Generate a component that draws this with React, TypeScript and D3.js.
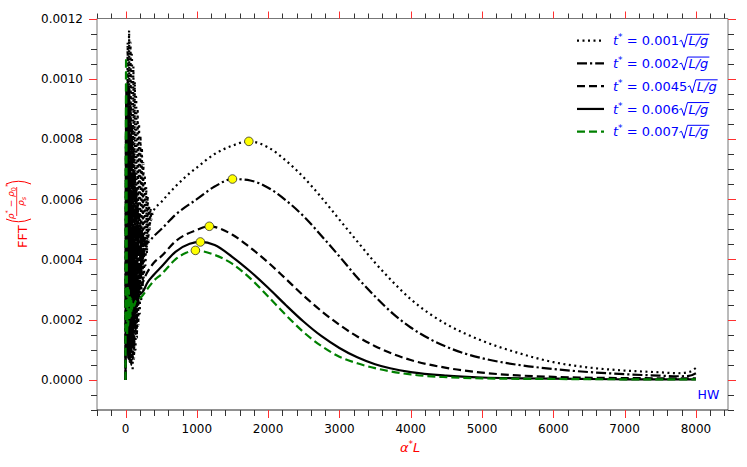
import React, { useEffect, useRef } from 'react';
import * as d3 from 'd3';

// t* = 0.001 sqrt(L/g)  (dotted)
const dottedX = [0, 10, 20, 30, 40, 50, 60, 70, 80, 90, 100, 110, 120, 130, 140, 150, 160, 170, 180, 190, 200, 210, 220, 230, 240, 250, 260, 270, 280, 290, 300, 310, 320, 330, 340, 350, 360, 370, 380, 390,
  500, 600, 700, 850, 1000, 1250, 1500, 1730, 2000, 2250, 2500, 2750, 3000, 3250, 3500, 3750, 4000, 4250, 4500, 4750, 5000, 5500, 6000, 6500, 7000, 7500, 7750, 7900, 8000];
const dottedY = [0, 0.0009, 0.0002, 0.00112, 0.00015, 0.00116, 0.0001, 0.00112, 0.00006, 0.00108, 0.00003, 0.00104, 0.00007, 0.00099, 0.0001, 0.00094, 0.00014, 0.0009, 0.00018, 0.00085, 0.00022, 0.00081, 0.00026, 0.00077, 0.0003, 0.00072, 0.00034, 0.00068, 0.00038, 0.00064, 0.00042, 0.00061, 0.00046, 0.00058, 0.0005, 0.00057, 0.00053, 0.00056, 0.00055, 0.00056,
  0.00059, 0.000617, 0.000642, 0.000676, 0.000705, 0.00075, 0.000778, 0.000792, 0.000772, 0.000728, 0.000672, 0.000605, 0.000532, 0.00046, 0.000389, 0.000325, 0.000268, 0.000222, 0.000185, 0.000155, 0.00013, 0.00009, 0.000059, 0.000041, 0.000031, 0.000025, 0.000022, 0.000026, 0.00004];

// t* = 0.002 sqrt(L/g)  (dash-dot)
const dashDotX = [0, 10, 20, 30, 40, 50, 60, 70, 80, 90, 100, 110, 120, 130, 140, 150, 160, 170, 180, 190, 200, 210, 220, 230, 240, 250, 260, 270, 280, 290,
  300, 400, 500, 700, 1000, 1250, 1500, 1750, 2000, 2250, 2500, 2750, 3000, 3250, 3500, 3750, 4000, 4250, 4500, 4750, 5000, 5500, 6000, 6500, 7000, 7500, 7750, 7900, 8000];
const dashDotY = [0, 0.00093, 0.00012, 0.00099, 0.00008, 0.00097, 0.00006, 0.00091, 0.00005, 0.00084, 0.00007, 0.00077, 0.0001, 0.0007, 0.00015, 0.00064, 0.0002, 0.00059, 0.00025, 0.00055, 0.0003, 0.00052, 0.00034, 0.0005, 0.00038, 0.00048, 0.00041, 0.00047, 0.00044, 0.00046,
  0.000455, 0.000478, 0.0005, 0.000548, 0.0006, 0.000642, 0.000667, 0.000662, 0.000638, 0.000596, 0.000543, 0.000478, 0.00041, 0.00034, 0.000277, 0.00022, 0.000174, 0.000138, 0.00011, 0.000088, 0.000072, 0.00005, 0.000036, 0.000026, 0.000019, 0.000014, 0.000012, 0.000013, 0.000022];

// t* = 0.0045 sqrt(L/g)  (dashed)
const dashedX = [0, 10, 20, 30, 40, 50, 60, 70, 80, 90, 100, 110, 120, 130, 140, 150, 160, 170, 180, 190, 200,
  300, 400, 500, 700, 1000, 1175, 1500, 1750, 2000, 2250, 2500, 2750, 3000, 3250, 3500, 3750, 4000, 4500, 5000, 5500, 6000, 7000, 8000];
const dashedY = [0, 0.00088, 0.0001, 0.00082, 0.00007, 0.00072, 0.00009, 0.00062, 0.00011, 0.00053, 0.00014, 0.00046, 0.00018, 0.0004, 0.00022, 0.00036, 0.00026, 0.00034, 0.00029, 0.00033, 0.00031,
  0.000355, 0.00039, 0.00041, 0.00046, 0.000498, 0.00051, 0.000482, 0.000439, 0.00039, 0.000335, 0.000279, 0.000228, 0.000183, 0.000144, 0.000112, 0.000086, 0.000066, 0.00004, 0.000024, 0.000015, 0.00001, 0.000006, 0.000005];

// t* = 0.006 sqrt(L/g)  (solid)
const solidX = [0, 10, 20, 30, 40, 50, 60, 70, 80, 90, 100, 110, 120, 130, 140, 150, 160, 170, 180, 190,
  250, 300, 400, 500, 700, 900, 1050, 1250, 1500, 1750, 2000, 2250, 2500, 2750, 3000, 3250, 3500, 4000, 4500, 5000, 6000, 7000, 8000];
const solidY = [0, 0.00097, 0.00009, 0.00088, 0.00007, 0.00068, 0.0001, 0.00055, 0.00013, 0.00045, 0.00017, 0.00038, 0.00021, 0.00033, 0.00024, 0.0003, 0.00026, 0.00029, 0.00027, 0.00028,
  0.000295, 0.00032, 0.00035, 0.000375, 0.000425, 0.000452, 0.000458, 0.000448, 0.000408, 0.00036, 0.000306, 0.000248, 0.000193, 0.000145, 0.000106, 0.000075, 0.000052, 0.000026, 0.000014, 0.000008, 0.000004, 0.000002, 0.000002];

// t* = 0.007 sqrt(L/g)  (green dashed)
const greenX = [0, 8, 15, 22, 30, 38, 46, 54, 62, 70, 80, 90, 100, 120, 140, 170, 200,
  300, 400, 500, 700, 850, 980, 1250, 1500, 1750, 2000, 2250, 2500, 2750, 3000, 3250, 3500, 4000, 4500, 5000, 6000, 7000, 8000];
const greenY = [0, 0.00107, 0.0006, 0.00015, 0.00031, 0.00018, 0.0003, 0.0002, 0.00028, 0.00021, 0.00027, 0.00023, 0.00026, 0.000245, 0.00026, 0.000265, 0.00027,
  0.0003, 0.00033, 0.00035, 0.0004, 0.000422, 0.00043, 0.000415, 0.000385, 0.000337, 0.000277, 0.000215, 0.000158, 0.000112, 0.000077, 0.000055, 0.000039, 0.000018, 0.000009, 0.000005, 0.000003, 0.000002, 0.000002];

// peak markers
const peakX = [1730, 1500, 1175, 1050, 980];
const peakY = [0.000792, 0.000667, 0.00051, 0.000458, 0.00043];

const legendValues = ['0.001', '0.002', '0.0045', '0.006', '0.007'];
const xMajorTicks = [0, 1000, 2000, 3000, 4000, 5000, 6000, 7000, 8000];
const yMajorTicks = [0, 0.0002, 0.0004, 0.0006, 0.0008, 0.001, 0.0012];

const W = 747;
const H = 467;
const FONT = 'DejaVu Sans';

const App = () => {
  const svgRef = useRef<SVGSVGElement>(null);

  useEffect(() => {
    const svg = d3.select(svgRef.current);
    svg.selectAll('*').remove();

    const left = 97, right = 728, top = 18.5, bottom = 410;
    const x = d3.scaleLinear().domain([-400, 8450]).range([left, right]);
    const y = d3.scaleLinear().domain([-0.0001, 0.0012]).range([bottom, top]);

    const series = [
      { xs: dottedX, ys: dottedY, color: '#000', dash: '2,3.5', w: 2.2 },
      { xs: dashDotX, ys: dashDotY, color: '#000', dash: '10,3,2.2,3', w: 2.2 },
      { xs: dashedX, ys: dashedY, color: '#000', dash: '8,4', w: 2.2 },
      { xs: solidX, ys: solidY, color: '#000', dash: null, w: 2.2 },
      { xs: greenX, ys: greenY, color: '#008000', dash: '8,4', w: 2.2 },
    ];

    const line = d3.line<[number, number]>()
      .x(d => x(d[0]))
      .y(d => y(d[1]))
      .curve(d3.curveMonotoneX);

    // curves
    series.forEach(s => {
      svg.append('path')
        .attr('d', line(s.xs.map((v, i) => [v, s.ys[i]] as [number, number])))
        .attr('fill', 'none')
        .attr('stroke', s.color)
        .attr('stroke-width', s.w)
        .attr('stroke-dasharray', s.dash)
        .attr('stroke-linejoin', 'round');
    });

    // peak markers
    svg.selectAll('circle.peak')
      .data(peakX)
      .enter()
      .append('circle')
      .attr('class', 'peak')
      .attr('cx', d => x(d))
      .attr('cy', (d, i) => y(peakY[i]))
      .attr('r', 4.3)
      .attr('fill', '#ffff00')
      .attr('stroke', '#333')
      .attr('stroke-width', 0.8);

    // frame
    const frame = svg.append('g').attr('fill', 'none');
    frame.append('line').attr('x1', left).attr('x2', right).attr('y1', top).attr('y2', top).attr('stroke', '#777');
    frame.append('line').attr('x1', right).attr('x2', right).attr('y1', top).attr('y2', bottom).attr('stroke', '#777');
    frame.append('line').attr('x1', left).attr('x2', left).attr('y1', top).attr('y2', bottom).attr('stroke', '#777');
    frame.append('line').attr('x1', left).attr('x2', right).attr('y1', bottom).attr('y2', bottom).attr('stroke', '#222');

    // ticks, outward on all four sides
    const xMinor = d3.range(-400, 8401, 200).filter(v => v % 1000 !== 0);
    const yMinor = d3.range(-2, 25).map(k => k * 0.00005).filter(v => Math.abs(v / 0.0002 - Math.round(v / 0.0002)) > 1e-6);
    const tk = svg.append('g').attr('stroke-width', 1);
    const majorCol = '#ff3030', minorCol = '#333';
    xMinor.forEach(v => {
      const px = Math.round(x(v)) + 0.5;
      tk.append('line').attr('x1', px).attr('x2', px).attr('y1', bottom).attr('y2', bottom + 6).attr('stroke', minorCol);
      tk.append('line').attr('x1', px).attr('x2', px).attr('y1', top).attr('y2', top - 5).attr('stroke', minorCol);
    });
    xMajorTicks.forEach(v => {
      const px = Math.round(x(v)) + 0.5;
      tk.append('line').attr('x1', px).attr('x2', px).attr('y1', bottom).attr('y2', bottom + 8).attr('stroke', majorCol);
      tk.append('line').attr('x1', px).attr('x2', px).attr('y1', top).attr('y2', top - 7).attr('stroke', majorCol);
    });
    yMinor.forEach(v => {
      const py = Math.round(y(v)) + 0.5;
      tk.append('line').attr('x1', left).attr('x2', left - 6).attr('y1', py).attr('y2', py).attr('stroke', minorCol);
      tk.append('line').attr('x1', right).attr('x2', right + 6).attr('y1', py).attr('y2', py).attr('stroke', minorCol);
    });
    yMajorTicks.forEach(v => {
      const py = Math.round(y(v)) + 0.5;
      tk.append('line').attr('x1', left).attr('x2', left - 8).attr('y1', py).attr('y2', py).attr('stroke', majorCol);
      tk.append('line').attr('x1', right).attr('x2', right + 8).attr('y1', py).attr('y2', py).attr('stroke', majorCol);
    });

    // tick labels
    const lab = svg.append('g').attr('font-family', FONT).attr('font-size', 12).attr('fill', '#000');
    xMajorTicks.forEach(v => {
      lab.append('text').attr('x', x(v)).attr('y', 433).attr('text-anchor', 'middle').text(String(v));
    });
    yMajorTicks.forEach(v => {
      lab.append('text').attr('x', 83).attr('y', y(v) + 4.4).attr('text-anchor', 'end').text(d3.format('.4f')(v));
    });

    // rich text helper: parts are drawn one after another
    type Part = { t: string; italic?: boolean; size?: number; dy?: number };
    const rich = (g: any, x0: number, base: number, parts: Part[], size: number, color: string) => {
      let cx = x0;
      parts.forEach(p => {
        const t = g.append('text')
          .attr('x', cx)
          .attr('y', base + (p.dy || 0))
          .attr('font-family', FONT)
          .attr('font-size', p.size || size)
          .attr('font-style', p.italic ? 'italic' : 'normal')
          .attr('fill', color)
          .style('white-space', 'pre')
          .text(p.t);
        cx += (t.node() as SVGTextElement).getComputedTextLength();
      });
      return cx;
    };

    // legend
    const leg = svg.append('g');
    legendValues.forEach((val, i) => {
      const cy = 40.7 + i * 22.75;
      const s = series[i];
      leg.append('line')
        .attr('x1', 577).attr('x2', 604).attr('y1', cy).attr('y2', cy)
        .attr('stroke', s.color).attr('stroke-width', s.w).attr('stroke-dasharray', s.dash);
      const base = cy + 4.6;
      const blue = '#0000ff';
      let cx = rich(leg, 613, base, [
        { t: 't', italic: true },
        { t: '*', size: 9, dy: -5 },
        { t: ' = ' + val },
      ], 13, blue);
      const rx = cx + 0.5;
      const end = rich(leg, rx + 9, base, [{ t: 'L/g', italic: true }], 13, blue);
      leg.append('path')
        .attr('d', `M${rx},${base - 4} L${rx + 2},${base - 5} L${rx + 4.5},${base + 2} L${rx + 8},${base - 11} L${end + 1},${base - 11}`)
        .attr('fill', 'none').attr('stroke', blue).attr('stroke-width', 1);
    });

    // x label
    rich(svg, 400, 452, [
      { t: 'α', italic: true },
      { t: '*', size: 9, dy: -5 },
      { t: 'L', italic: true },
    ], 13, '#ff0000');

    // y label, rotated
    const yl = svg.append('g').attr('transform', 'rotate(-90)');
    rich(yl, -248, 27, [{ t: 'FFT' }], 13, '#ff0000');
    yl.append('path').attr('d', 'M-219,6 Q-224.5,18.5 -219,31').attr('fill', 'none').attr('stroke', '#ff0000').attr('stroke-width', 1);
    yl.append('path').attr('d', 'M-184,6 Q-178.5,18.5 -184,31').attr('fill', 'none').attr('stroke', '#ff0000').attr('stroke-width', 1);
    const num = yl.append('g');
    const numEnd = rich(num, 0, 13.5, [
      { t: 'ρ', italic: true },
      { t: '*', size: 6.5, dy: -3.5 },
      { t: ' − ', size: 9 },
      { t: 'ρ', italic: true },
      { t: '0', size: 6.5, dy: 2 },
      { t: '*', size: 6.5, dy: -3.5 },
    ], 9, '#ff0000');
    num.attr('transform', `translate(${-201.5 - numEnd / 2},0)`);
    yl.append('line').attr('x1', -216).attr('x2', -187).attr('y1', 16.7).attr('y2', 16.7).attr('stroke', '#ff0000').attr('stroke-width', 0.8);
    const den = yl.append('g');
    const denEnd = rich(den, 0, 24, [
      { t: 'ρ', italic: true },
      { t: 's', italic: true, size: 6.5, dy: 2 },
    ], 9, '#ff0000');
    den.attr('transform', `translate(${-201.5 - denEnd / 2},0)`);

    // HW tag
    svg.append('text').attr('x', 697.5).attr('y', 399).attr('font-family', FONT).attr('font-size', 12.5)
      .attr('fill', '#0000ff').text('HW');
  }, []);

  return (
    <svg ref={svgRef} width={W} height={H} style={{ position: 'absolute', left: 0, top: 0, background: '#fff' }} />
  );
};

export default App;
